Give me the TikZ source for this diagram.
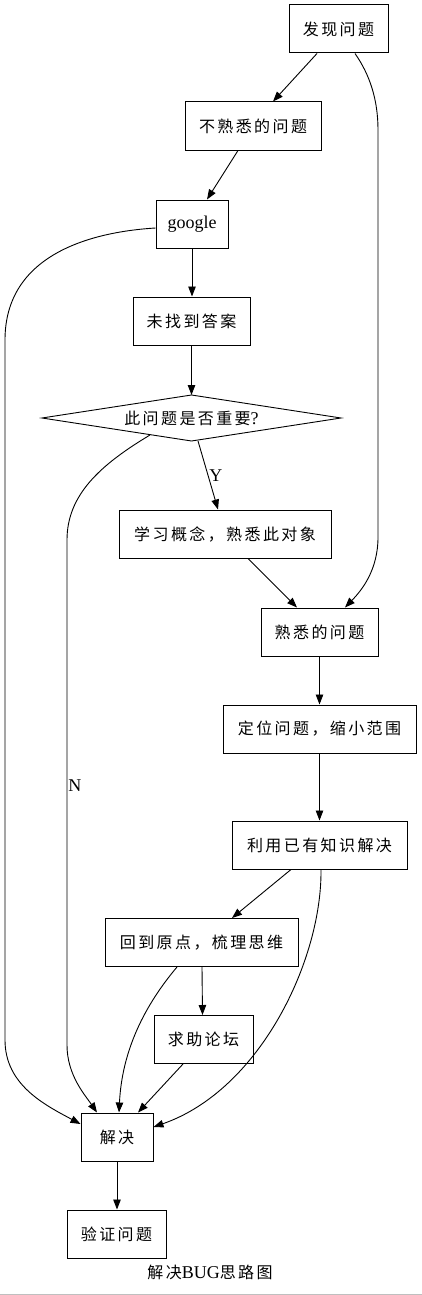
\documentclass[tikz,border=0pt]{standalone}
\usepackage{fontspec}
\setmainfont{Liberation Serif}
\newfontfamily\cjk[LetterSpace=15]{Noto Sans CJK SC}
\usetikzlibrary{arrows.meta,calc}
\begin{document}
\begin{tikzpicture}[x=1pt,y=-1pt,
  box/.style={draw,line width=1pt,minimum height=48pt,inner sep=0pt,font=\fontsize{16}{18}\cjk},
  arr/.style={line width=0.9pt,-{Triangle[length=10pt,width=7.5pt]}},
  lbl/.style={font=\fontsize{18}{20}\selectfont,inner sep=1pt}]
\useasboundingbox (0,0) rectangle (422,1295);
\node[box,minimum width=99pt] (a) at (338.5,29) {发现问题};
\node[box,minimum width=136pt] (b) at (253,126) {不熟悉的问题};
\node[box,minimum width=72pt,font=\fontsize{18}{20}\selectfont] (g) at (192,224) {google};
\node[box,minimum width=117pt] (c) at (191.5,321) {未找到答案};
\node[inner sep=0pt,font=\fontsize{16}{18}\cjk] (q) at (191.5,418) {此问题是否重要{\rmfamily\fontsize{18}{20}\selectfont ?}};
\draw[line width=0.9pt] ($(q)+(-149.5,0)$) -- ($(q)+(0,-23)$) -- ($(q)+(149.5,0)$) -- ($(q)+(0,23)$) -- cycle;
\node[box,minimum width=212pt] (d) at (225,534) {学习概念，熟悉此对象};
\node[box,minimum width=117pt] (e) at (319.5,632) {熟悉的问题};
\node[box,minimum width=193pt] (f) at (319.5,729) {定位问题，缩小范围};
\node[box,minimum width=175pt] (h) at (319.5,845) {利用已有知识解决};
\node[box,minimum width=193pt] (i) at (201.5,942.5) {回到原点，梳理思维};
\node[box,minimum width=99pt] (j) at (203.5,1039.5) {求助论坛};
\node[box,minimum width=72pt] (k) at (117,1137) {解决};
\node[box,minimum width=99pt] (l) at (116.5,1234) {验证问题};
\node[lbl] (cap) at (210,1272) {{\fontsize{16}{18}\cjk 解决}BUG{\fontsize{16}{18}\cjk 思路图}};

\draw[arr] ($(a.south)+(-21.5,0)$) -- ($(b.north)+(20,0)$);
\draw[arr] ($(a.south)+(16.5,0)$) .. controls (370,75) and (378,100) .. (378,130) -- (378,537) .. controls (378,570) and (362,590) .. ($(e.north)+(25.5,0)$);
\draw[arr] ($(b.south)+(-15,0)$) -- ($(g.north)+(15,0)$);
\draw[arr] (g.south) -- (g.south |- c.north);
\draw[arr] ($(g.west)+(0,4)$) .. controls (90,232) and (5,255) .. (5,340) -- (5,1040) .. controls (5,1085) and (45,1105) .. ($(k.west)+(0,-13)$);
\draw[arr] (c.south) -- ($(q)+(0,-23)$);
\draw[arr] ($(q)+(6.5,23)$) -- node[lbl,midway,right] {Y} ($(d.north)+(-7,0)$);
\draw[arr] ($(q)+(-41.5,17)$) .. controls (100,465) and (67,495) .. (67,540) -- node[lbl,pos=0.487,right] {N} (67,1045) .. controls (67,1075) and (85,1095) .. ($(k.north)+(-20,0)$);
\draw[arr] ($(d.south)+(23,0)$) -- ($(e.north)+(-22.5,0)$);
\draw[arr] (e.south) -- (f.north);
\draw[arr] (f.south) -- (h.north);
\draw[arr] ($(h.south)+(-28.5,0)$) -- ($(i.north)+(30.5,0)$);
\draw[arr] ($(h.south)+(1.5,0)$) .. controls (322,960) and (260,1090) .. ($(k.east)+(0,-10)$);
\draw[arr] ($(i.south)+(0.5,0)$) -- ($(j.north)+(-1,0)$);
\draw[arr] ($(i.south)+(-24.5,0)$) .. controls (145,1005) and (122,1050) .. ($(k.north)+(2,0)$);
\draw[arr] ($(j.south)+(-20.5,0)$) -- ($(k.north)+(21,0)$);
\draw[arr] (k.south) -- (k.south |- l.north);
\draw[gray!50,line width=1pt] (0,1294) -- (422,1294);
\end{tikzpicture}
\end{document}
